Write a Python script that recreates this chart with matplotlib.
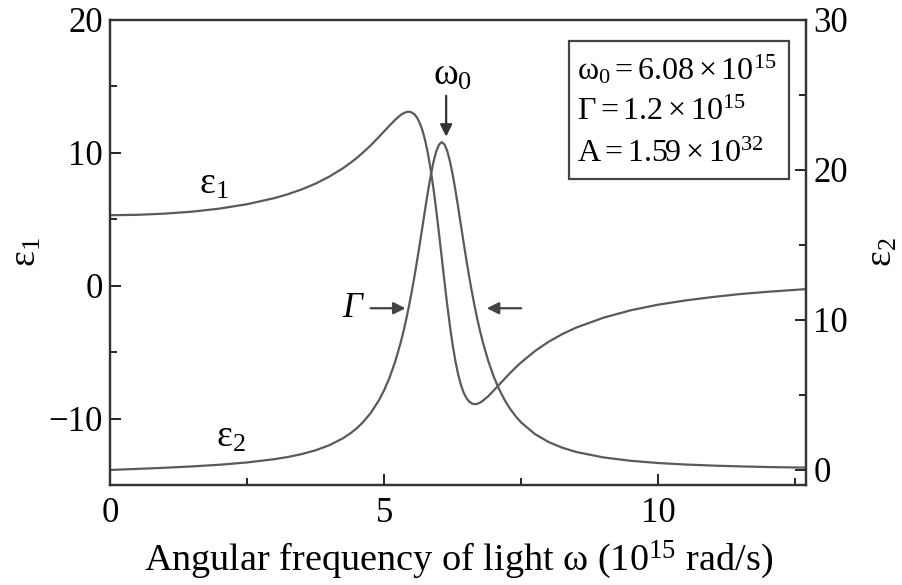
import numpy as np
import matplotlib
matplotlib.use("Agg")
import matplotlib.pyplot as plt
from matplotlib.patches import Rectangle
from matplotlib.ticker import MultipleLocator

plt.rcParams['font.family'] = ['Liberation Serif', 'DejaVu Serif']
plt.rcParams['mathtext.fontset'] = 'custom'
plt.rcParams['mathtext.rm'] = 'Liberation Serif'
plt.rcParams['mathtext.it'] = 'Liberation Serif:italic'

# angular frequency (10^15 rad/s)
omega = [0, 0.5, 1, 1.5, 2, 2.5, 3, 3.25, 3.5, 3.75, 4, 4.25, 4.4, 4.5, 4.6,
         4.75, 4.9, 5, 5.1, 5.2, 5.3, 5.35, 5.4, 5.45, 5.5, 5.55, 5.6, 5.65,
         5.7, 5.75, 5.8, 5.85, 5.9, 5.95, 6.0, 6.05, 6.1, 6.15, 6.2, 6.25,
         6.3, 6.35, 6.4, 6.45, 6.5, 6.55, 6.6, 6.65, 6.7, 6.75, 6.8, 6.9,
         7.0, 7.1, 7.2, 7.3, 7.4, 7.5, 7.75, 8, 8.25, 8.5, 9, 9.5, 10, 10.5,
         11, 11.5, 12, 12.7]

# real part eps1 (left axis)
eps1 = [5.30, 5.33, 5.42, 5.57, 5.80, 6.13, 6.59, 6.89, 7.25, 7.68, 8.21,
        8.84, 9.29, 9.61, 9.97, 10.54, 11.18, 11.62, 12.06, 12.48, 12.84,
        12.97, 13.06, 13.09, 13.04, 12.90, 12.64, 12.23, 11.65, 10.88, 9.89,
        8.68, 7.26, 5.65, 3.91, 2.10, 0.28, -1.47, -3.07, -4.50, -5.71,
        -6.70, -7.47, -8.06, -8.46, -8.73, -8.87, -8.92, -8.89, -8.80, -8.66,
        -8.31, -7.88, -7.44, -6.99, -6.56, -6.15, -5.77, -4.92, -4.22, -3.64,
        -3.16, -2.41, -1.85, -1.43, -1.11, -0.85, -0.63, -0.46, -0.26]

# imaginary part eps2 (right axis)
eps2 = [0.0, 0.071, 0.147, 0.237, 0.349, 0.501, 0.720, 0.870, 1.062, 1.313,
        1.650, 2.115, 2.485, 2.782, 3.131, 3.777, 4.618, 5.324, 6.179, 7.217,
        8.481, 9.209, 10.01, 10.89, 11.84, 12.86, 13.95, 15.10, 16.27, 17.46,
        18.60, 19.65, 20.55, 21.25, 21.69, 21.85, 21.70, 21.26, 20.56, 19.67,
        18.62, 17.48, 16.30, 15.12, 13.97, 12.88, 11.86, 10.91, 10.03, 9.23,
        8.50, 7.24, 6.20, 5.35, 4.64, 4.06, 3.57, 3.16, 2.39, 1.86, 1.48,
        1.20, 0.835, 0.610, 0.463, 0.362, 0.290, 0.237, 0.196, 0.154]

params = [r'$\mathregular{ω_0 = 6.08 \times 10^{15}}$',
          r'$\mathregular{Γ = 1.2 \times 10^{15}}$',
          r'$\mathregular{A = 1.59 \times 10^{32}}$']

line_color = '#5a5a5a'
fs = 25
gs = 27  # greek labels look a bit bigger

fig = plt.figure(figsize=(9.02, 5.85), dpi=100)
ax = fig.add_axes([0.122, 0.171, 0.772, 0.795])
ax2 = ax.twinx()

ax.plot(omega, eps1, color=line_color, lw=1.6)
ax2.plot(omega, eps2, color=line_color, lw=1.6)

ax.set_xlim(0, 12.7)
ax.set_ylim(-15, 20)
ax2.set_ylim(-1, 30)

ax.xaxis.set_major_locator(MultipleLocator(5))
ax.xaxis.set_minor_locator(MultipleLocator(2.5))
ax.yaxis.set_major_locator(MultipleLocator(10))
ax.yaxis.set_minor_locator(MultipleLocator(5))
ax2.yaxis.set_major_locator(MultipleLocator(10))
ax2.yaxis.set_minor_locator(MultipleLocator(5))

ax.tick_params(axis='y', which='major', direction='in', length=8, width=1.2,
               labelsize=fs, pad=5)
ax.tick_params(axis='x', which='major', direction='in', length=8, width=1.2,
               labelsize=fs, pad=9)
ax.tick_params(axis='both', which='minor', direction='in', length=5, width=1.2)
ax.tick_params(axis='x', which='both', top=False)
ax2.tick_params(axis='y', which='major', direction='in', length=8, width=1.2,
                labelsize=fs, pad=5)
ax2.tick_params(axis='y', which='minor', direction='in', length=5, width=1.2)

for a in (ax, ax2):
    for s in a.spines.values():
        s.set_linewidth(1.6)
        s.set_color('#333333')

ax.set_xticklabels([f'{t:g}' for t in ax.get_xticks()])
ax.set_yticklabels(['\u2212' + f'{-t:g}' if t < 0 else f'{t:g}' for t in ax.get_yticks()])

ax.set_xlabel(r'Angular frequency of light ω ($\mathregular{10^{15}}$ rad/s)',
              fontsize=27.5, labelpad=6)
ax.set_ylabel(r'$\mathregular{ε_1}$', fontsize=gs, labelpad=4)
ax2.set_ylabel(r'$\mathregular{ε_2}$', fontsize=gs, labelpad=12)

# curve labels
ax.text(1.9, 7.6, r'$\mathregular{ε_1}$', fontsize=gs, ha='center', va='center')
ax.text(2.2, -11.4, r'$\mathregular{ε_2}$', fontsize=gs, ha='center', va='center')

# omega_0 marker
ax.text(6.25, 15.8, r'$\mathregular{ω_0}$', fontsize=gs, ha='center', va='center')
ax.annotate('', xy=(6.13, 11.0), xytext=(6.13, 14.5),
            arrowprops=dict(arrowstyle='-|>', color='#333333', lw=1.6,
                            mutation_scale=18))

# linewidth arrows
ax.annotate('', xy=(5.44, -1.7), xytext=(4.7, -1.7),
            arrowprops=dict(arrowstyle='-|>', color='#444444', lw=1.6,
                            mutation_scale=18))
ax.annotate('', xy=(6.82, -1.7), xytext=(7.55, -1.7),
            arrowprops=dict(arrowstyle='-|>', color='#444444', lw=1.6,
                            mutation_scale=18))
ax.text(4.6, -1.7, 'Γ', fontsize=fs, style='italic', ha='right', va='center')

# parameter box
box = Rectangle((0.659, 0.658), 0.316, 0.296, transform=ax.transAxes,
                facecolor='white', edgecolor='#444444', lw=1.6, zorder=5)
ax2.add_patch(box)
for i, s in enumerate(params):
    ax2.text(0.671, 0.893 - i * 0.091, s, transform=ax.transAxes, fontsize=23,
             ha='left', va='center', zorder=6)

fig.savefig('out.png', dpi=100)
